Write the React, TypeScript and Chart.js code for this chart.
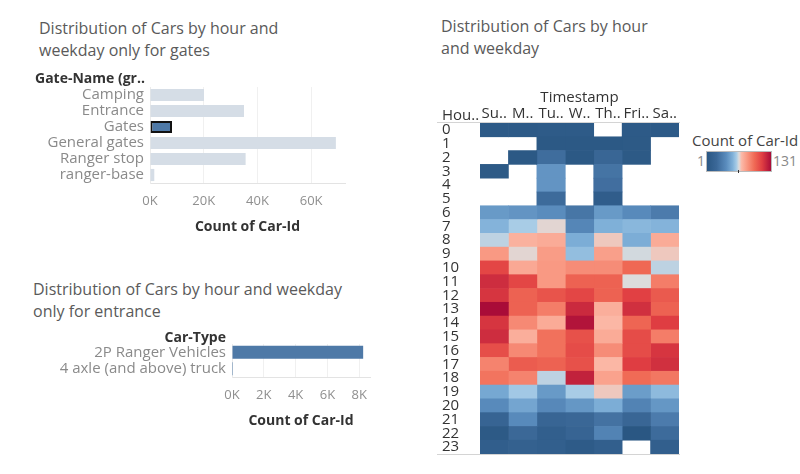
import React, { useEffect, useRef } from "react";
import { Chart, registerables } from "chart.js";

Chart.register(...registerables);

const FONT = "'Open Sans', sans-serif";

// ---- Chart 1: gates ----
const gateNames = ["Camping", "Entrance", "Gates", "General gates", "Ranger stop", "ranger-base"];
const gateCounts = [20100, 35000, 8200, 69200, 35600, 1600];
const gateTicks = [0, 20000, 40000, 60000];
const gateAxisMax = 72600;
const selectedGate = "Gates";

// ---- Chart 2: car types ----
const carTypes = ["2P Ranger Vehicles", "4 axle (and above) truck"];
const carTypeCounts = [8250, 60];
const carTicks = [0, 2000, 4000, 6000, 8000];
const carAxisMax = 8680;

// ---- Chart 3: heatmap ----
const hours = ["0", "1", "2", "3", "4", "5", "6", "7", "8", "9", "10", "11", "12", "13", "14", "15", "16", "17", "18", "19", "20", "21", "22", "23"];
const dayLabels = ["Su..", "M..", "Tu..", "W..", "Th..", "Fri..", "Sa.."];
const sun = [5, null, null, 4, null, null, 45, 54, 63, 82, 110, 119, 116, 131, 116, 119, 107, 89, 94, 50, 39, 16, 4, 9];
const mon = [5, null, 3, null, null, null, 43, 61, 74, 67, 77, 110, 100, 100, 87, 75, 87, 102, 89, 60, 49, 39, 20, 12];
const tue = [6, 3, 23, 43, 43, 22, 40, 67, 76, 81, 82, 82, 105, 91, 76, 95, 95, 100, 63, 45, 38, 17, 10, 10];
const wed = [6, 3, 3, null, null, null, 28, 37, 52, 57, 86, 100, 110, 120, 128, 106, 108, 106, 123, 61, 44, 19, 16, 6];
const thu = [null, 3, 18, 27, 24, 8, 45, 53, 69, 80, 86, 100, 100, 75, 72, 76, 86, 72, 79, 69, 52, 26, 35, 10];
const fri = [5, 4, 4, null, null, null, 39, 55, 52, 65, 98, 66, 112, 118, 99, 108, 108, 113, 97, 46, 35, 18, 1, null];
const sat = [5, null, null, null, null, null, 31, 54, 76, 69, 63, 91, 103, 100, 113, 91, 116, 118, 93, 56, 44, 31, 22, 10];
const dayColumns = [sun, mon, tue, wed, thu, fri, sat];
const colorMin = 1;
const colorMax = 131;

const colorStops: [number, string][] = [
  [0.0, "#2a5783"],
  [0.15, "#3b6898"],
  [0.3, "#5a8cbd"],
  [0.4, "#7fb0d8"],
  [0.46, "#a6cbe6"],
  [0.5, "#dcdcdc"],
  [0.54, "#fbb9a8"],
  [0.62, "#f99a84"],
  [0.74, "#f06a55"],
  [0.86, "#e03e42"],
  [1.0, "#a90c38"],
];

function hexToRgb(h: string) {
  const n = parseInt(h.slice(1), 16);
  return [(n >> 16) & 255, (n >> 8) & 255, n & 255];
}

function valueColor(v: number | null) {
  if (v == null) return "rgba(0,0,0,0)";
  const t = Math.max(0, Math.min(1, (v - colorMin) / (colorMax - colorMin)));
  for (let i = 0; i < colorStops.length - 1; i++) {
    const [t0, c0] = colorStops[i];
    const [t1, c1] = colorStops[i + 1];
    if (t <= t1) {
      const f = (t - t0) / (t1 - t0);
      const a = hexToRgb(c0);
      const b = hexToRgb(c1);
      const r = a.map((x, k) => Math.round(x + (b[k] - x) * f));
      return `rgb(${r[0]},${r[1]},${r[2]})`;
    }
  }
  return colorStops[colorStops.length - 1][1];
}

const kFmt = (v: any) => `${Math.round(Number(v) / 1000)}K`;

function GatesChart() {
  const ref = useRef<HTMLCanvasElement>(null);
  useEffect(() => {
    const chart = new Chart(ref.current!, {
      type: "bar",
      data: {
        labels: gateNames,
        datasets: [
          {
            data: gateCounts,
            backgroundColor: gateNames.map((g) => (g === selectedGate ? "#4e79a7" : "#d5dde6")),
            borderColor: "#111111",
            borderWidth: gateNames.map((g) => (g === selectedGate ? 2 : 0)),
            borderSkipped: false,
            barPercentage: 0.76,
            categoryPercentage: 1,
          },
        ],
      },
      options: {
        indexAxis: "y",
        animation: false,
        responsive: false,
        layout: { padding: { top: 87, right: 55, bottom: 5, left: 0 } },
        plugins: { legend: { display: false }, tooltip: { enabled: false } },
        scales: {
          x: {
            min: 0,
            max: gateAxisMax,
            afterBuildTicks: (axis: any) => {
              axis.ticks = gateTicks.map((v) => ({ value: v }));
            },
            afterFit: (s: any) => {
              s.height = 52;
            },
            grid: { color: "#f0f0f0", drawTicks: false },
            border: { color: "#e3e3e3" },
            ticks: { color: "#8f8f8f", font: { family: FONT, size: 13 }, padding: 10, callback: kFmt, maxRotation: 0, autoSkip: false },
            title: {
              display: true,
              text: "Count of Car-Id",
              color: "#333333",
              font: { family: FONT, size: 14, weight: "bold" },
              padding: { top: 0, bottom: 0 },
            },
          },
          y: {
            afterFit: (s: any) => {
              s.width = 150;
            },
            grid: { display: false, drawTicks: false },
            border: { color: "#ebebeb" },
            ticks: { color: "#8a8a8a", font: { family: FONT, size: 15 }, padding: 6, autoSkip: false },
          },
        },
      } as any,
    });
    return () => chart.destroy();
  }, []);
  return <canvas ref={ref} width={400} height={240} style={{ position: "absolute", left: 0, top: 0, width: 400, height: 240 }} />;
}

function CarTypeChart() {
  const ref = useRef<HTMLCanvasElement>(null);
  useEffect(() => {
    const chart = new Chart(ref.current!, {
      type: "bar",
      data: {
        labels: carTypes,
        datasets: [
          {
            data: carTypeCounts,
            backgroundColor: "#4e79a7",
            barPercentage: 0.79,
            categoryPercentage: 1,
          },
        ],
      },
      options: {
        indexAxis: "y",
        animation: false,
        responsive: false,
        layout: { padding: { top: 74, right: 30, bottom: 45, left: 0 } },
        plugins: { legend: { display: false }, tooltip: { enabled: false } },
        scales: {
          x: {
            min: 0,
            max: carAxisMax,
            afterBuildTicks: (axis: any) => {
              axis.ticks = carTicks.map((v) => ({ value: v }));
            },
            afterFit: (s: any) => {
              s.height = 52;
            },
            grid: { color: "#f0f0f0", drawTicks: false },
            border: { color: "#e3e3e3" },
            ticks: { color: "#8f8f8f", font: { family: FONT, size: 13 }, padding: 10, callback: kFmt, maxRotation: 0, autoSkip: false },
            title: {
              display: true,
              text: "Count of Car-Id",
              color: "#333333",
              font: { family: FONT, size: 14, weight: "bold" },
              padding: { top: 0, bottom: 0 },
            },
          },
          y: {
            afterFit: (s: any) => {
              s.width = 232;
            },
            grid: { display: false, drawTicks: false },
            border: { color: "#ebebeb" },
            ticks: { color: "#8a8a8a", font: { family: FONT, size: 15 }, padding: 6, autoSkip: false },
          },
        },
      } as any,
    });
    return () => chart.destroy();
  }, []);
  return <canvas ref={ref} width={400} height={204} style={{ position: "absolute", left: 0, top: 270, width: 400, height: 204 }} />;
}

const headerLines = {
  id: "headerLines",
  afterDraw(chart: any) {
    const { ctx, chartArea } = chart;
    ctx.save();
    ctx.strokeStyle = "#d4d4d4";
    ctx.lineWidth = 1;
    const x0 = chartArea.left - 43;
    ctx.beginPath();
    ctx.moveTo(x0, Math.round(chartArea.top) - 0.5);
    ctx.lineTo(chartArea.right + 1, Math.round(chartArea.top) - 0.5);
    ctx.moveTo(x0, Math.round(chartArea.bottom) + 0.5);
    ctx.lineTo(chartArea.right + 1, Math.round(chartArea.bottom) + 0.5);
    ctx.stroke();
    ctx.restore();
  },
};

function HeatmapChart() {
  const ref = useRef<HTMLCanvasElement>(null);
  useEffect(() => {
    const chart = new Chart(ref.current!, {
      type: "bar",
      data: {
        labels: hours,
        datasets: dayColumns.map((col, d) => ({
          label: dayLabels[d],
          data: col.map((v) => (v == null ? null : [d, d + 1])),
          backgroundColor: col.map((v) => valueColor(v)),
          borderWidth: 0,
          grouped: false,
          barPercentage: 1,
          categoryPercentage: 1,
        })),
      },
      options: {
        indexAxis: "y",
        animation: false,
        responsive: false,
        layout: { padding: { top: 9, right: 11, bottom: 20, left: 12 } },
        plugins: { legend: { display: false }, tooltip: { enabled: false } },
        scales: {
          x: {
            type: "linear",
            position: "top",
            min: 0,
            max: dayLabels.length,
            afterBuildTicks: (axis: any) => {
              axis.ticks = dayLabels.map((_, i) => ({ value: i + 0.5 }));
            },
            afterFit: (s: any) => {
              s.height = 34;
            },
            grid: { display: false, drawTicks: false },
            border: { display: false },
            ticks: {
              color: "#333333",
              font: { family: FONT, size: 15 },
              padding: 0,
              maxRotation: 0,
              autoSkip: false,
              callback: (v: any) => dayLabels[Math.floor(Number(v))],
            },
            title: {
              display: true,
              text: "Timestamp",
              color: "#333333",
              font: { family: FONT, size: 15 },
              padding: { top: 0, bottom: 0 },
            },
          },
          y: {
            afterFit: (s: any) => {
              s.width = 38;
            },
            grid: { display: false, drawTicks: false },
            border: { display: false },
            ticks: {
              color: "#333333",
              font: { family: FONT, size: 15 },
              padding: 0,
              crossAlign: "far",
              autoSkip: false,
            },
          },
        },
      } as any,
      plugins: [headerLines],
    });
    return () => chart.destroy();
  }, []);
  return <canvas ref={ref} width={260} height={394} style={{ position: "absolute", left: 430, top: 80, width: 260, height: 394 }} />;
}

const titleStyle: React.CSSProperties = {
  position: "absolute",
  fontFamily: FONT,
  fontSize: 16,
  lineHeight: "22px",
  color: "#5a5a5a",
  whiteSpace: "nowrap",
};

export default function App() {
  const gradient = `linear-gradient(to right, ${colorStops.map(([t, c]) => `${c} ${t * 100}%`).join(", ")})`;
  return (
    <div style={{ position: "fixed", left: 0, top: 0, width: 800, height: 474, background: "#ffffff", overflow: "hidden" }}>
      <div style={{ ...titleStyle, left: 39, top: 17 }}>
        Distribution of Cars by hour and
        <br />
        weekday only for gates
      </div>
      <div style={{ ...titleStyle, left: 33, top: 278 }}>
        Distribution of Cars by hour and weekday
        <br />
        only for entrance
      </div>
      <div style={{ ...titleStyle, left: 441, top: 15 }}>
        Distribution of Cars by hour
        <br />
        and weekday
      </div>
      <GatesChart />
      <CarTypeChart />
      <HeatmapChart />
      <div style={{ position: "absolute", left: 35, top: 68, fontFamily: FONT, fontSize: 14, fontWeight: 700, color: "#333" }}>Gate-Name (gr..</div>
      <div style={{ position: "absolute", right: 800 - 226, top: 327, fontFamily: FONT, fontSize: 14, fontWeight: 700, color: "#333" }}>Car-Type</div>
      <div style={{ position: "absolute", left: 442, top: 104, fontFamily: FONT, fontSize: 15, color: "#333" }}>Hou..</div>
      <div style={{ position: "absolute", left: 692, top: 130, fontFamily: FONT, fontSize: 15, color: "#444", whiteSpace: "nowrap" }}>Count of Car-Id</div>
      <div style={{ position: "absolute", left: 697, top: 151, fontFamily: FONT, fontSize: 14, color: "#888" }}>1</div>
      <div style={{ position: "absolute", left: 706, top: 151, width: 64, height: 19, background: gradient, border: "1px solid #bbbbbb" }} />
      <div style={{ position: "absolute", left: 738, top: 170, width: 1, height: 3, background: "#333" }} />
      <div style={{ position: "absolute", left: 773, top: 151, fontFamily: FONT, fontSize: 14, color: "#888" }}>131</div>
    </div>
  );
}
